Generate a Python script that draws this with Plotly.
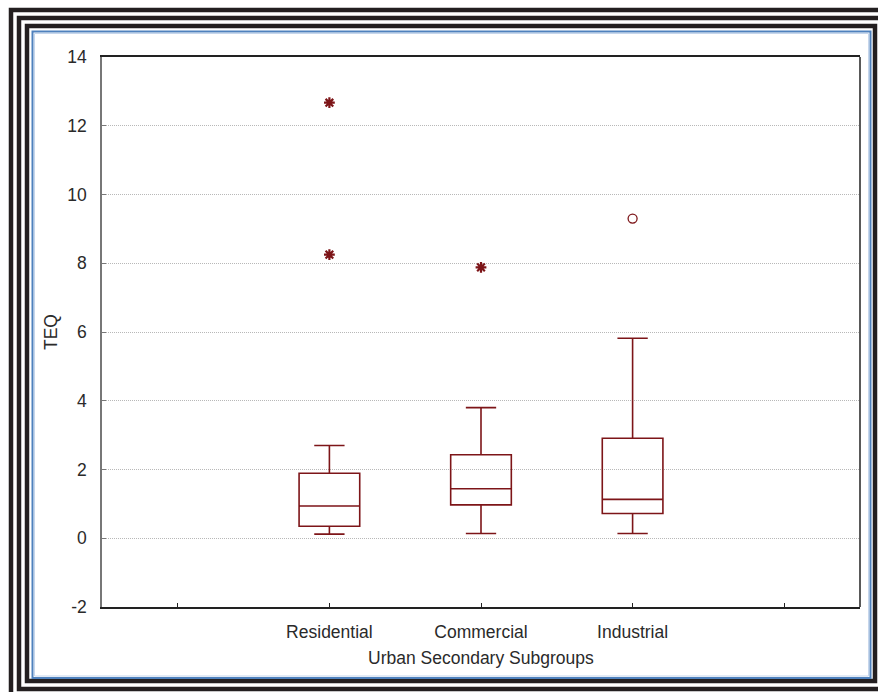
import plotly.graph_objects as go

# ---- data ----
categories = ["Residential", "Commercial", "Industrial"]
cat_pos = [1, 2, 3]
q1 = [0.35, 0.97, 0.72]
median = [0.94, 1.44, 1.13]
q3 = [1.89, 2.43, 2.91]
lower_whisker = [0.12, 0.14, 0.14]
upper_whisker = [2.70, 3.80, 5.82]

extreme_x = [1, 1, 2]
extreme_y = [12.67, 8.25, 7.88]
outlier_x = [3]
outlier_y = [9.30]

x_tickvals = [0, 1, 2, 3, 4]
x_ticktext = ["", "Residential", "Commercial", "Industrial", ""]
y_tickvals = [-2, 0, 2, 4, 6, 8, 10, 12, 14]
y_ticktext = ["-2", "0", "2", "4", "6", "8", "10", "12", "14"]

W, H = 878, 692
ML, MR, MT, MB = 102, 18, 57, 85
PW = W - ML - MR
PH = H - MT - MB

def fx(px):
    return (px - ML) / PW

def fy(py):
    return (H - MB - py) / PH

RED = "#7d1518"
FONT = "Liberation Sans, Arial, sans-serif"
FS = 17.5

fig = go.Figure()
for i, c in enumerate(categories):
    fig.add_trace(go.Box(
        x=[cat_pos[i]], q1=[q1[i]], median=[median[i]], q3=[q3[i]],
        lowerfence=[lower_whisker[i]], upperfence=[upper_whisker[i]],
        width=0.4, whiskerwidth=0.5, boxpoints=False,
        line=dict(color=RED, width=1.6), fillcolor="rgba(255,255,255,0)",
        name=c, showlegend=False, hoverinfo="skip",
    ))

fig.add_trace(go.Scatter(
    x=extreme_x, y=extreme_y, mode="markers",
    marker=dict(symbol="asterisk-open", size=9, color=RED, line=dict(color=RED, width=2.2)),
    showlegend=False,
))
fig.add_trace(go.Scatter(
    x=outlier_x, y=outlier_y, mode="markers",
    marker=dict(symbol="circle-open", size=9, color=RED, line=dict(color=RED, width=1.3)),
    showlegend=False,
))

shapes = []
BLACK = "#231f20"
# nested black frames
for (x0, y0, x1, y1) in [(11, 10, 920, 730), (19, 18, 920, 689), (27, 26, 875, 681)]:
    shapes.append(dict(type="rect", xref="paper", yref="paper",
                       x0=fx(x0), x1=fx(x1), y0=fy(y1), y1=fy(y0),
                       line=dict(color=BLACK, width=4.5), layer="above"))
# blue frame
shapes.append(dict(type="rect", xref="paper", yref="paper",
                   x0=fx(32.5), x1=fx(870.5), y0=fy(678), y1=fy(31.5),
                   line=dict(color="#4f81bd", width=2), layer="above"))
shapes.append(dict(type="rect", xref="paper", yref="paper",
                   x0=fx(34.5), x1=fx(868.5), y0=fy(676), y1=fy(33.5),
                   line=dict(color="#c6d6ec", width=1), layer="above"))
# right frame of plot area
shapes.append(dict(type="line", xref="paper", yref="paper",
                   x0=1, x1=1, y0=0, y1=1, line=dict(color="#222222", width=1.5)))

fig.update_layout(
    width=W, height=H,
    margin=dict(l=ML, r=MR, t=MT, b=MB),
    paper_bgcolor="white", plot_bgcolor="white",
    font=dict(family=FONT, size=FS, color="#2a2a2a"),
    shapes=shapes,
    xaxis=dict(range=[-0.5, 4.5], tickmode="array", tickvals=x_tickvals, ticktext=x_ticktext,
               ticks="inside", ticklen=4, tickcolor="#222222", showline=True,
               linecolor="#222222", linewidth=1.5, mirror=True, showgrid=False, zeroline=False,
               ticklabelstandoff=8),
    yaxis=dict(range=[-2, 14], tickmode="array", tickvals=y_tickvals, ticktext=y_ticktext,
               ticks="inside", ticklen=4, tickcolor="#777777", showline=True,
               linecolor="#777777", linewidth=1.5, showgrid=True, gridcolor="#b8b8b8",
               griddash="1px,1px", gridwidth=1, zeroline=False, ticklabelstandoff=10),
    annotations=[
        dict(text="TEQ", xref="paper", yref="paper", x=fx(51), y=fy(332),
             textangle=-90, showarrow=False, xanchor="center", yanchor="middle",
             font=dict(family=FONT, size=FS, color="#2a2a2a")),
        dict(text="Urban Secondary Subgroups", xref="paper", yref="paper", x=0.5, y=fy(658),
             showarrow=False, xanchor="center", yanchor="middle",
             font=dict(family=FONT, size=FS, color="#2a2a2a")),
    ],
)

fig.write_html("out.html")
